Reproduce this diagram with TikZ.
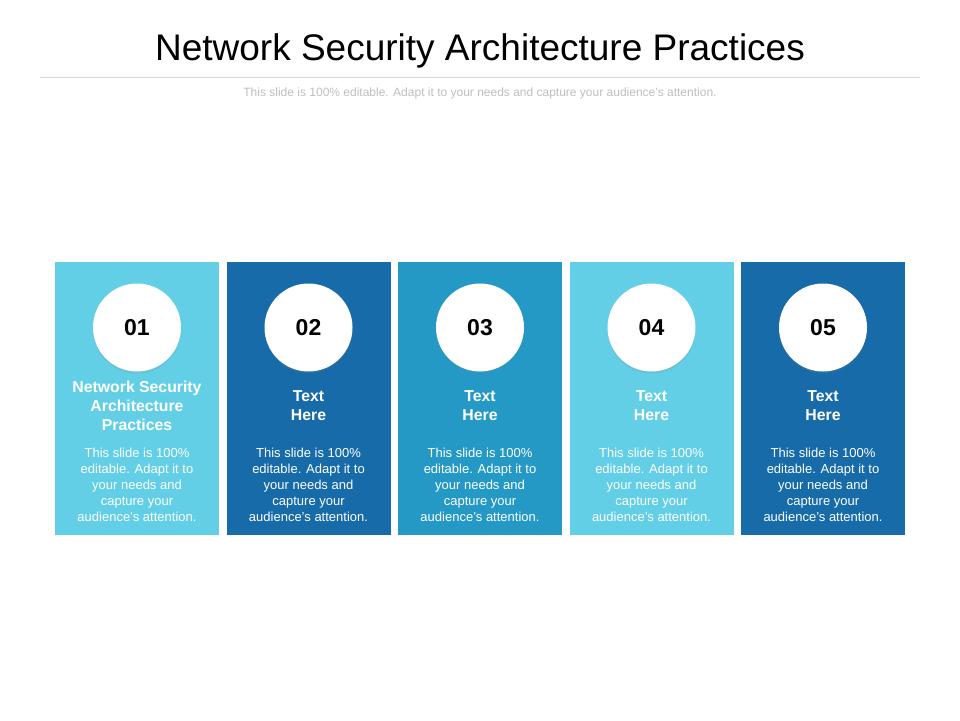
\documentclass[tikz,border=0pt]{standalone}
\usepackage{fontspec}
\setmainfont{Liberation Sans}
\usetikzlibrary{shadows}
\definecolor{cLight}{HTML}{62CFE6}
\definecolor{cDark}{HTML}{166BA8}
\definecolor{cMid}{HTML}{2499C6}
\definecolor{cSub}{HTML}{BFBFBF}
\definecolor{cRule}{HTML}{D9D9D9}
\tikzset{
  panel/.style={fill=#1, draw=none, minimum width=164pt, minimum height=273pt, inner sep=0pt},
  numcirc/.style={circle, fill=white, minimum size=88pt, inner sep=0pt, font=\fontsize{23}{26}\selectfont\bfseries, text=black,
     drop shadow={shadow xshift=0pt, shadow yshift=-2pt, opacity=0.18}},
  ptitle/.style={text=white, font=\fontsize{15.8}{19}\selectfont\bfseries, align=center},
  pbody/.style={text=white, font=\fontsize{13}{16}\selectfont, align=center},
}
\begin{document}
\begin{tikzpicture}[x=1pt,y=-1pt]
\useasboundingbox (0,0) rectangle (960,720);
\fill[white] (0,0) rectangle (960,720);
\node[font=\fontsize{37}{42}\selectfont] (title) at (480,51) {Network Security Architecture Practices};
\coordinate (rl) at (40,77.5);
\coordinate (rr) at (920,77.5);
\draw[cRule, line width=0.8pt] (rl) -- (rr);
\node[text=cSub, font=\fontsize{12}{14}\selectfont] (sub) at (480,93.5) {This slide is 100\% editable. Adapt it to your needs and capture your audience's attention.};
\foreach \i/\cx/\col in {1/137/cLight,2/308.5/cDark,3/480/cMid,4/651.5/cLight,5/823/cDark}{
  \node[panel=\col] (p\i) at (\cx,398.5) {};
  \node[numcirc] (c\i) at (\cx,327.5) {0\i};
}
\node[ptitle] (t1) at (137,406) {Network Security\\Architecture\\Practices};
\node[ptitle] (t2) at (308.5,405.5) {Text\\Here};
\node[ptitle] (t3) at (480,405.5) {Text\\Here};
\node[ptitle] (t4) at (651.5,405.5) {Text\\Here};
\node[ptitle] (t5) at (823,405.5) {Text\\Here};
\foreach \i/\cx in {1/137,2/308.5,3/480,4/651.5,5/823}{
  \node[pbody] (b\i) at (\cx,484.5) {This slide is 100\%\\editable. Adapt it to\\your needs and\\capture your\\audience's attention.};
}
\end{tikzpicture}
\end{document}
